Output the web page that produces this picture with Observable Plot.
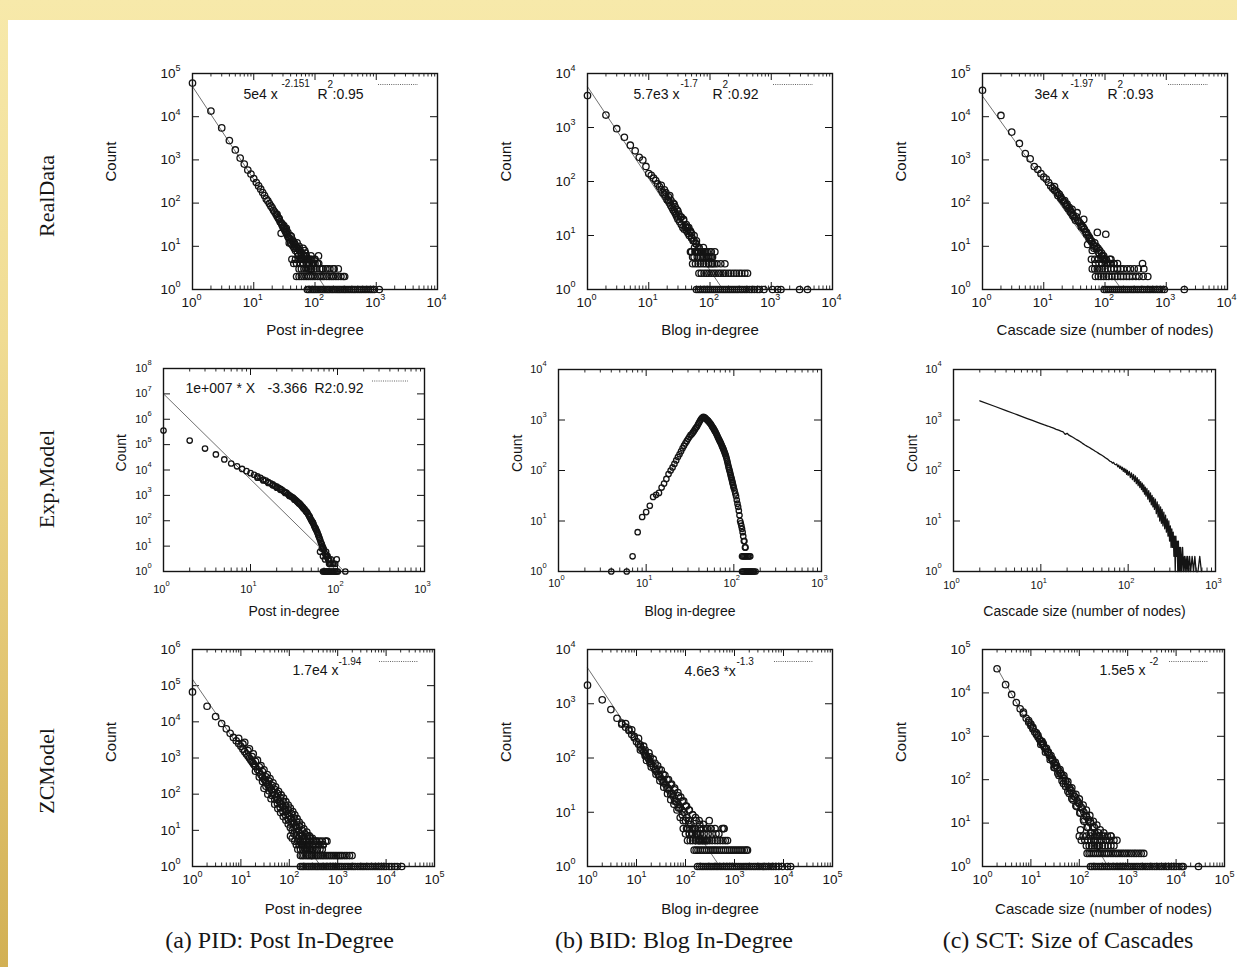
<!DOCTYPE html>
<html><head><meta charset="utf-8">
<script src="https://cdn.jsdelivr.net/npm/d3@7"></script>
<script src="https://cdn.jsdelivr.net/npm/@observablehq/plot@0.6"></script>
<style>
html,body{margin:0;padding:0;width:1237px;height:967px;overflow:hidden;}
body{position:relative;background:linear-gradient(to bottom,#f7e9aa 0%,#f0dc93 35%,#e2c571 70%,#d2b054 100%);}
#sheet{position:absolute;left:8px;top:20px;right:0;bottom:0;background:#fff;}
.rowlab{position:absolute;font-family:"Liberation Serif","Times New Roman",serif;font-size:22px;color:#161616;transform:translate(-50%,-50%) rotate(-90deg);white-space:nowrap;}
.cap{position:absolute;font-family:"Liberation Serif","Times New Roman",serif;font-size:24px;color:#161616;transform:translate(-50%,-50%);white-space:nowrap;}
svg{position:absolute;}
</style></head><body><div id="sheet"></div>
<script>
// ---------------- DATA ----------------
const rowLabels = ["RealData", "Exp.Model", "ZCModel"];
const captions = ["(a) PID: Post In-Degree", "(b) BID: Blog In-Degree", "(c) SCT: Size of Cascades"];
const xLabels = ["Post in-degree", "Blog in-degree", "Cascade size (number of nodes)"];
const yLabel = "Count";

// RealData - Post in-degree
const realPidXDomain = [1, 1e4], realPidYDomain = [1, 1e5];
const realPidX = [1,2,3,4,5,6,7,8,9,10,11,12,13,14,15,16,17,18,19,20,21,22,23,24,25,26,27,28,29,30,31,32,33,34,35,36,37,38,39,40,42,44,46,48,50,52,54,56,58,60,63,66,70,74,78,83,88,95,105,114,
  28,34,38,43,47,51,55,59,64,68,72,76,82,86,92,98,110,130,160,200,
  24,26,29,31,33,36,39,41,44,46,49,53,57,61,65,69,73,77,81,85];
const realPidY = [60000,13500,5500,2800,1700,1100,800,580,470,370,300,250,210,175,150,125,112,98,86,78,68,62,56,50,46,42,37,35,31,28,26,24,22,21,19,17,16,15,14,12,11,10,9,8,9,7,6,8,5,6,4,5,7,4,3,5,3,4,3,6,
  20,26,12,14,11,12,10,7,9,8,6,5,4,6,4,5,4,3,3,3,
  55,44,33,30,25,21,18,17,13,12,10,9,8,7,6,6,5,4,4,3];
const realPidFive = [42,48,55,62,70,78,88,100];
const realPidFour = [45,50,58,65,72,80,90,100,115];
const realPidThree = [55,60,66,72,80,88,96,120,135,150,175,205,240];
const realPidTwo = [50,55,60,66,72,78,85,92,100,110,120,130,140,155,170,185,200,220,240,265,290,305];
const realPidOne = [75,80,86,92,98,105,112,120,128,136,145,155,165,175,188,200,215,230,245,260,280,300,320,345,370,400,430,460,500,540,580,630,680,740,800,860,930,1120];
const realPidFitX = [1, 153], realPidFitY = [5e4, 1];
const realPidLegend = ["5e4 x", "-2.151", "R", "2", ":0.95"];

// RealData - Blog in-degree
const realBidXDomain = [1, 1e4], realBidYDomain = [1, 1e4];
const realBidX = [1,2,3,4,5,6,7,8,9,10,11,12,13,14,15,16,17,18,19,20,21,22,23,24,25,26,27,28,29,30,32,34,36,38,40,42,44,46,48,50,53,56,59,62,66,70,75,80,86,92,
  18,22,26,30,33,37,41,45,50,55,60,65,72,78,85,95,100,110,48,52,58,100,105,
  16,19,21,23,25,27,29,31,34,37,40,43,47,51,55,60,66];
const realBidY = [3900,1700,950,660,470,370,280,250,190,140,130,115,104,90,80,70,62,58,52,46,44,40,36,33,30,28,26,24,22,20,18,16,14,13,14,12,11,10,12,9,8,6,7,5,6,5,4,5,4,4,
  70,55,38,28,22,20,16,14,11,10,8,5,5,6,5,3,4,3,5,4,5,5,4,
  85,62,52,45,40,34,30,25,22,19,15,14,12,9,8,7,6];
const realBidFive = [50,57,65,75,90,105,120];
const realBidFour = [55,62,70,80,95,110];
const realBidThree = [52,58,64,70,78,86,95,105,118,130,150,175];
const realBidTwo = [66,72,80,88,96,105,115,125,138,150,165,180,200,220,245,270,300,330,370,410];
const realBidOne = [60,65,70,76,82,88,95,102,110,118,127,137,148,160,172,185,200,215,232,250,270,290,315,340,370,400,440,480,530,590,640,760,1050,1270,1440,2900,3900];
const realBidFitX = [1, 162], realBidFitY = [5700, 1];
const realBidLegend = ["5.7e3 x", "-1.7", "R", "2", ":0.92"];

// RealData - Cascade size
const realSctXDomain = [1, 1e4], realSctYDomain = [1, 1e5];
const realSctX = [1,2,3,4,5,6,7,8,9,10,11,12,13,14,15,16,17,18,19,20,21,22,23,24,25,26,27,28,29,30,32,34,36,38,40,42,44,46,48,50,53,56,60,64,68,72,77,82,88,95,
  35,45,52,58,62,66,75,80,90,100,103,110,120,124,140,160,410,
  15,17,19,22,24,27,30,33,37,41,45,50,55,61,67,73,80,88,97];
const realSctY = [41000,10700,4400,2400,1400,1060,700,600,480,400,360,300,250,220,240,190,150,160,130,120,110,115,90,85,75,80,65,60,72,55,45,48,40,36,33,30,28,25,22,21,18,16,13,11,12,10,9,8,7,6,
  60,42,11,14,8,9,21,7,6,5,19,4,5,4,4,3,4,
  200,170,140,100,95,70,50,40,38,28,25,19,15,13,10,9,7,6,5];
const realSctFive = [60,68,78,90,105,125];
const realSctFour = [70,80,90,105,120,140,160];
const realSctThree = [62,68,75,82,90,100,110,125,140,160,180,200,230,260,300,350,430];
const realSctTwo = [70,78,86,95,105,115,130,145,160,180,200,225,250,280,320,360,420,500];
const realSctOne = [97,105,113,122,132,142,153,165,178,192,207,223,240,260,280,300,325,350,380,410,440,480,520,560,610,660,720,780,850,930,1970];
const realSctFitX = [1, 187], realSctFitY = [3e4, 1];
const realSctLegend = ["3e4 x", "-1.97", "R", "2", ":0.93"];

// Exp.Model - Post in-degree
const expPidXDomain = [1, 1e3], expPidYDomain = [1, 1e8];
const expPidX = [1,2,3,4,5,6,7,8,9,10,11,12,13,14,15,16,17,18,19,20,21,22,23,24,25,26,27,28,29,30,31,32,33,34,35,36,37,38,39,40,41,42,43,44,45,46,47,48,49,50,51,52,53,54,55,56,57,58,59,60,61,62,63,64,65,66,67,68,69,70,72,74,76,78,80,82,85,88,90,
  63,66,68,72,74,77,80,84,94,98,
  12,14,16,18,20,22,25,28,32,36,40,44,48,52,56,60];
const expPidY = [360000,145000,70000,41000,26000,18000,14000,11000,9000,7500,6500,5600,4900,4200,3800,3300,3000,2700,2400,2200,2000,1800,1650,1450,1350,1250,1100,1000,920,860,790,720,650,590,540,500,460,410,370,340,300,280,250,230,210,180,160,140,120,105,95,85,75,62,55,48,43,38,33,28,24,21,18,15,13,12,10,9,8,7,5,4,4,3,3,2,2,2,2,
  6,8,4,3,6,4,2,3,2,3,
  5000,3900,3100,2500,2000,1650,1250,950,680,480,330,220,140,85,50,28];
const expPidOne = [68,70,72,74,76,78,80,83,86,89,92,95,98,101,123];
const expPidFitX = [1, 120], expPidFitY = [1e7, 1];
const expPidLegend = ["1e+007 * X", "-3.366", "R2:0.92"];

// Exp.Model - Blog in-degree
const expBidXDomain = [1, 1e3], expBidYDomain = [1, 1e4];
const expBidX = [4,6,7,8,9,10,11,12,13,14,15,16,17,18,19,20,21,22,23,24,25,26,27,28,29,30,31,32,33,34,35,36,37,38,39,40,41,42,43,44,45,46,47,48,49,50,51,52,53,54,55,56,57,58,59,60,61,62,63,64,65,66,67,68,69,70,71,72,73,74,75,76,77,78,79,80,81,82,83,84,85,86,87,88,89,90,91,92,93,94,95,96,97,98,99,100,102,104,106,108,110,112,114,116,118,120,122,124,126,128,130,132,134,136];
const expBidY = [1,1,2,6,12,15,20,30,33,36,46,55,68,85,100,115,135,158,185,210,240,275,310,345,380,420,460,500,520,560,600,650,700,740,810,880,950,1020,1080,1120,1150,1130,1100,1070,1020,990,960,920,880,850,810,770,730,700,665,630,600,570,540,510,480,450,430,405,385,365,350,330,310,295,280,265,250,235,220,208,195,182,168,155,142,130,118,110,102,95,88,81,75,70,65,60,56,52,48,45,40,35,31,26,22,19,16,13,10,9,8,7,6,5,4,4,3,3];
const expBidTwo = [124,128,132,136,140,145,150,154];
const expBidOne = [124,128,132,136,140,144,148,152,156,160,165,170,177];

// Exp.Model - Cascade size (connected line)
const expSctXDomain = [1, 1e3], expSctYDomain = [1, 1e4];
const expSctX = [2,3,4,5,6,7,8,9,10,11,12,13,14,15,16,17,18,19,20,21,22,23,24,25,26,27,28,29,30,
  32,34,36,38,40,42,44,46,48,50,52,54,56,58,60,62,64,66,68,70,72,74,76,78,80,82,84,86,88,90,92,94,96,98,100,
  103,106,109,112,115,118,121,124,127,130,133,136,139,142,145,148,151,154,157,160,
  164,168,172,176,180,184,188,192,196,200,
  205,210,215,220,225,230,235,240,245,250,
  256,262,268,274,280,286,292,298,304,310,316,322,328,334,340,346,352,358,364,370,376,382,388,394,400,
  410,420,430,440,450,460,470,480,490,
  505,520,540,560,580,600,630,660,690];
const expSctY = [2400,1850,1530,1330,1180,1070,980,910,850,800,760,720,690,655,630,600,580,520,545,500,480,460,440,420,405,390,375,360,345,
  320,300,285,268,255,240,230,218,208,200,192,182,175,168,160,152,150,140,145,133,130,135,118,128,110,122,104,116,96,110,92,106,84,100,80,
  96,72,90,66,84,60,78,55,72,50,66,46,60,42,56,38,52,34,47,31,
  44,27,40,24,36,21,32,19,29,17,
  27,14,24,12,21,10,19,9,17,8,
  15,7,13,6,11,5,10,4,8,3,7,3,6,2,5,1,5,2,4,1,4,1,3,1,3,
  1,3,1,2,1,2,1,2,1,
  2,1,2,1,2,1,1,2,1];

// ZCModel - Post in-degree
const zcPidXDomain = [1, 1e5], zcPidYDomain = [1, 1e6];
const zcPidX = [1,2,3,4,5,6,7,8,9,10,11,12,13,14,15,16,17,18,19,20,22,24,26,28,30,32,34,36,38,40,43,46,50,54,58,62,66,70,75,80,86,92,100,108,116,125,135,145,155,170,185,200,
  12,15,18,22,26,30,35,40,46,52,60,68,76,85,95,105,118,130,145,160,180,200,230,260,300,350,420,500,560,
  30,36,42,50,58,66,75,85,95,105,115,125,140,155,170,190,210,235,260,290,
  9,11,14,17,20,24,28,33,38,44,50,57,65,74,84,96,110,125,142,162,185,210,240,275,320,370,430,
  20,24,28,33,38,44,50,57,65,74,84,96,110,125,142,162,185,210,240,270,300,
  106,115,600,500,400];
const zcPidY = [67000,27000,14000,9000,6400,4800,3700,3000,2500,2100,1750,1500,1300,1130,1000,880,790,710,640,580,480,405,345,300,262,232,206,184,166,150,130,114,97,83,72,63,56,50,44,38,33,29,25,21,18,16,13,11.5,10,8,7,6,
  2700,1800,1300,870,620,470,350,270,205,160,120,95,78,62,50,41,33,27,21,17,14,11,9,7,6,5,5,4,5,
  145,100,75,53,40,31,24,19,15,12,10,8,7,6,5,4,3,3,3,2,
  3500,2450,1600,1100,810,570,420,300,232,175,136,105,80,63,48,37,29,22,17,13,10,8,7,6,5,5,4,
  430,300,225,165,125,92,72,55,43,33,26,20,16,12,9,7,5,4,4,3,3,
  7,6,5,4,4];
const zcPidFive = [130,150,170,190,220,260,320,480];
const zcPidFour = [140,160,180,200,230,260,300,350];
const zcPidThree = [150,170,190,215,240,270,300,340,380,430,480];
const zcPidTwo = [170,185,200,220,240,260,285,310,340,370,400,440,480,520,570,620,680,740,810,880,960,1050,1150,1250,1400,1550,1750,1980];
const zcPidOne = [170,185,200,220,240,260,285,310,340,370,400,440,480,520,570,620,680,740,810,880,960,1050,1150,1250,1400,1550,1700,1900,2100,2300,2600,2900,3200,3500,3900,4300,4800,5300,5900,6500,7200,8000,9000,10000,11500,13000,15000,17000,21000];
const zcPidFitX = [1, 450], zcPidFitY = [1.5e5, 1];
const zcPidLegend = ["1.7e4 x", "-1.94"];

// ZCModel - Blog in-degree
const zcBidXDomain = [1, 1e5], zcBidYDomain = [1, 1e4];
const zcBidX = [1,2,3,4,5,6,7,8,9,10,11,12,13,14,15,16,17,18,19,20,22,24,26,28,30,33,36,40,44,48,53,58,64,70,77,85,94,105,115,128,140,155,176,200,
  6,8,11,14,18,22,27,32,38,45,52,60,70,80,92,105,120,140,160,190,230,280,330,400,480,560,
  16,20,25,30,36,43,50,58,67,78,90,105,120,140,160,185,215,250,
  5,7,9,12,15,19,24,29,35,42,50,60,72,86,100,118,140,165,195,230,
  12,15,19,24,29,35,42,50,60,72,86,100,118,140,165,195,230,270,
  305,613];
const zcBidY = [2200,1180,780,540,440,370,320,270,235,200,180,160,145,130,120,110,102,94,87,80,70,62,56,50,46,41,37,32,28,25,22,19,16,14,12,11,10,8,7,6,5,5,4,4,
  430,330,230,165,125,95,72,60,48,40,33,28,23,19,16,13,11,9,8,7,6,5,5,5,4,5,
  90,68,50,38,29,22,17,14,11,8,7,5,4,4,3,3,3,3,
  420,340,250,175,140,105,80,62,50,40,32,26,20,16,13,11,9,7,6,5,
  140,110,80,60,46,35,27,21,16,12,9,7,6,5,4,3,3,3,
  7,5];
const zcBidFive = [90,110,130,160,200,260,330,600];
const zcBidFour = [100,120,140,170,200,240,290,350,420];
const zcBidThree = [110,125,140,160,180,200,225,250,280,310,350,400,450,510,580,650,720];
const zcBidTwo = [150,165,180,200,220,245,270,300,330,365,400,440,490,540,600,660,730,800,880,970,1070,1180,1300,1430,1580,1740,1840];
const zcBidOne = [176,195,215,235,260,285,315,345,380,420,460,510,560,620,680,750,830,910,1000,1100,1220,1350,1500,1650,1800,2000,2200,2450,2700,3000,3300,3700,4100,4500,5000,5600,6200,7000,8000,9500,12000,14000];
const zcBidFitX = [1, 500], zcBidFitY = [4600, 1];
const zcBidLegend = ["4.6e3 *x", "-1.3"];

// ZCModel - Cascade size
const zcSctXDomain = [1, 1e5], zcSctYDomain = [1, 1e5];
const zcSctX = [2,3,4,5,6,7,8,9,10,11,12,13,14,15,16,17,18,19,20,22,24,26,28,30,32,35,38,41,44,48,52,57,62,68,74,81,90,100,110,124,140,155,170,190,210,233,
  10,13,17,21,26,32,40,48,58,70,85,100,120,140,165,195,230,270,320,380,450,520,
  30,36,44,52,62,74,88,104,122,145,170,200,240,
  7,9,11,14,18,23,28,34,42,52,64,78,95,115,140,170,205,250,300,360,
  16,20,25,31,38,47,58,70,85,103,125,150,180,215,260,
  106,600];
const zcSctY = [36000,15500,9200,6000,4300,3300,2600,2100,1750,1480,1260,1100,960,850,760,680,620,560,510,430,365,315,275,240,215,185,160,140,125,108,93,78,66,56,48,40,33,28,23,18,14,12,10,8,6,5,
  1900,1200,760,530,360,250,170,125,90,65,46,36,26,20,15,11,9,7,6,5,5,4,
  190,140,95,70,48,34,24,17,12,8,6,4,3,
  3600,2300,1600,1050,680,430,300,210,140,95,62,42,30,21,15,11,8,6,5,4,
  650,430,290,190,125,82,54,37,25,17,11,8,6,4,3,
  7,4];
const zcSctFive = [100,120,140,170,210,260,330,450];
const zcSctFour = [110,130,150,175,200,240,290,350,420];
const zcSctThree = [140,160,180,205,230,260,300,340,390,450,520];
const zcSctTwo = [145,160,175,195,215,240,265,295,330,365,400,450,500,560,620,690,770,860,960,1070,1200,1350,1500,1700,1900,2150];
const zcSctOne = [170,185,205,225,250,275,300,330,365,400,440,490,540,600,660,730,800,890,990,1100,1220,1350,1500,1650,1850,2050,2300,2550,2850,3200,3600,4000,4500,5000,5600,6300,7000,8000,9000,10000,11500,13000,14000,29000];
const zcSctFitX = [2, 387], zcSctFitY = [37500, 1];
const zcSctLegend = ["1.5e5 x", "-2"];

// ---------------- HELPERS ----------------
const INK = "#141414";
const SANS = "'Liberation Sans', Arial, Helvetica, sans-serif";
const zip = (xs, ys) => xs.map((x, i) => ({x, y: ys[i]}));
const level = (xs, c) => xs.map(x => ({x, y: c}));
function decades(d) { const a = []; const lo = Math.round(Math.log10(d[0])), hi = Math.round(Math.log10(d[1])); for (let k = lo; k <= hi; k++) a.push(Math.pow(10, k)); return a; }
function minors(d) { const a = []; const lo = Math.round(Math.log10(d[0])), hi = Math.round(Math.log10(d[1])); for (let k = lo; k < hi; k++) for (let m = 2; m <= 9; m++) a.push(m * Math.pow(10, k)); return a; }

// row styles (layout only)
const R1 = {tick: 13.5, exp: 9, lab: 15, xtDx: 4, xtDy: 17, xeDy: 10.5, ytDx: -17, yeDy: -5, countDx: -81, countDy: 0, xlabDy: 45.5, r: 3.2};
const R2 = {tick: 11, exp: 7.5, lab: 14, xtDx: 2, xtDy: 18, xeDy: 11.5, ytDx: -16, yeDy: -5.5, countDx: -41, countDy: 1.5, xlabDy: 44.5, r: 2.7};
const R3 = {tick: 13.5, exp: 9, lab: 15, xtDx: 5, xtDy: 17, xeDy: 10.5, ytDx: -17, yeDy: -5, countDx: -81, countDy: 4, xlabDy: 47.5, r: 3.2};

const supLegend = (t, pos) => t.map((s, i) => ({t: s, ...pos[i]}));
const realLow = (five, four, three, two, one) => [...level(five, 5), ...level(four, 4), ...level(three, 3), ...level(two, 2), ...level(one, 1)];

const panels = [
  {frame: [192, 73, 437, 289], xd: realPidXDomain, yd: realPidYDomain, st: R1, xlab: xLabels[0],
   dots: [...zip(realPidX, realPidY), ...realLow(realPidFive, realPidFour, realPidThree, realPidTwo, realPidOne)],
   fit: zip(realPidFitX, realPidFitY),
   legend: supLegend(realPidLegend, [{dx: 51, dy: 15.5, fs: 14}, {dx: 89, dy: 6.5, fs: 10}, {dx: 125, dy: 15.5, fs: 14}, {dx: 135, dy: 7, fs: 10}, {dx: 140, dy: 15.5, fs: 14}]),
   sample: {l: 186, r: 19, dy: 11}},
  {frame: [587, 73, 832, 289], xd: realBidXDomain, yd: realBidYDomain, st: R1, xlab: xLabels[1],
   dots: [...zip(realBidX, realBidY), ...realLow(realBidFive, realBidFour, realBidThree, realBidTwo, realBidOne)],
   fit: zip(realBidFitX, realBidFitY),
   legend: supLegend(realBidLegend, [{dx: 46, dy: 15.5, fs: 14}, {dx: 93, dy: 6.5, fs: 10}, {dx: 125, dy: 15.5, fs: 14}, {dx: 135, dy: 7, fs: 10}, {dx: 140, dy: 15.5, fs: 14}]),
   sample: {l: 186, r: 19, dy: 11}},
  {frame: [982, 73, 1227, 289], xd: realSctXDomain, yd: realSctYDomain, st: R1, xlab: xLabels[2],
   dots: [...zip(realSctX, realSctY), ...realLow(realSctFive, realSctFour, realSctThree, realSctTwo, realSctOne)],
   fit: zip(realSctFitX, realSctFitY),
   legend: supLegend(realSctLegend, [{dx: 52, dy: 15.5, fs: 14}, {dx: 88, dy: 6.5, fs: 10}, {dx: 125, dy: 15.5, fs: 14}, {dx: 135, dy: 7, fs: 10}, {dx: 140, dy: 15.5, fs: 14}]),
   sample: {l: 186, r: 19, dy: 11}},
  {frame: [163, 368, 424, 571], xd: expPidXDomain, yd: expPidYDomain, st: {...R2, xtDy: 21, xeDy: 14.5, countDx: -42}, xlab: xLabels[0],
   dots: [...zip(expPidX, expPidY), ...level(expPidOne, 1)],
   fit: zip(expPidFitX, expPidFitY),
   legend: supLegend(expPidLegend, [{dx: 22, dy: 14.7, fs: 14}, {dx: 104, dy: 14.7, fs: 14}, {dx: 151, dy: 14.7, fs: 14}]),
   sample: {l: 209, r: 16, dy: 12.5}},
  {frame: [558, 369, 821, 571], xd: expBidXDomain, yd: expBidYDomain, st: {...R2, xtDy: 15, xeDy: 8.5}, xlab: xLabels[1],
   dots: [...zip(expBidX, expBidY), ...level(expBidTwo, 2), ...level(expBidOne, 1)]},
  {frame: [953, 369, 1215, 571], xd: expSctXDomain, yd: expSctYDomain, st: {...R2, xtDy: 17.5, xeDy: 11}, xlab: xLabels[2],
   line: zip(expSctX, expSctY)},
  {frame: [192, 649, 434, 866], xd: zcPidXDomain, yd: zcPidYDomain, st: R3, xlab: xLabels[0],
   dots: [...zip(zcPidX, zcPidY), ...realLow(zcPidFive, zcPidFour, zcPidThree, zcPidTwo, zcPidOne)],
   fit: zip(zcPidFitX, zcPidFitY),
   legend: supLegend(zcPidLegend, [{dx: 100, dy: 15.5, fs: 14}, {dx: 146, dy: 8, fs: 10}]),
   sample: {l: 187, r: 16, dy: 12}},
  {frame: [587, 649, 832, 866], xd: zcBidXDomain, yd: zcBidYDomain, st: R3, xlab: xLabels[1],
   dots: [...zip(zcBidX, zcBidY), ...realLow(zcBidFive, zcBidFour, zcBidThree, zcBidTwo, zcBidOne)],
   fit: zip(zcBidFitX, zcBidFitY),
   legend: supLegend(zcBidLegend, [{dx: 97, dy: 16.5, fs: 14}, {dx: 149, dy: 8.5, fs: 10}]),
   sample: {l: 187, r: 19, dy: 12}},
  {frame: [982, 649, 1224, 866], xd: zcSctXDomain, yd: zcSctYDomain, st: R3, xlab: xLabels[2],
   dots: [...zip(zcSctX, zcSctY), ...realLow(zcSctFive, zcSctFour, zcSctThree, zcSctTwo, zcSctOne)],
   fit: zip(zcSctFitX, zcSctFitY),
   legend: supLegend(zcSctLegend, [{dx: 117, dy: 16, fs: 14}, {dx: 167, dy: 8, fs: 10}]),
   sample: {l: 187, r: 16, dy: 12}}
];

const ML = 100, MT = 12, MR = 14, MB = 62;
for (const p of panels) {
  const [l, t, r, b] = p.frame;
  const iw = r - l, ih = b - t, st = p.st;
  const xM = decades(p.xd), yM = decades(p.yd), xm = minors(p.xd);
  const expText = d => String(Math.round(Math.log10(d)));
  const marks = [
    Plot.tickX(xm, {insetTop: ih - 3.5, stroke: INK, strokeWidth: 0.9}),
    Plot.tickX(xm, {insetBottom: ih - 3.5, stroke: INK, strokeWidth: 0.9}),
    Plot.tickX(xM, {insetTop: ih - 7, stroke: INK, strokeWidth: 1}),
    Plot.tickX(xM, {insetBottom: ih - 7, stroke: INK, strokeWidth: 1}),
    Plot.tickY(yM, {insetRight: iw - 7, stroke: INK, strokeWidth: 1}),
    Plot.tickY(yM, {insetLeft: iw - 7, stroke: INK, strokeWidth: 1}),
    Plot.text(xM, {x: d => d, text: () => "10", frameAnchor: "bottom", textAnchor: "end", dx: st.xtDx, dy: st.xtDy, fontSize: st.tick, fill: INK}),
    Plot.text(xM, {x: d => d, text: expText, frameAnchor: "bottom", textAnchor: "start", dx: st.xtDx, dy: st.xeDy, fontSize: st.exp, fill: INK}),
    Plot.text(yM, {y: d => d, text: () => "10", frameAnchor: "left", textAnchor: "end", dx: st.ytDx, fontSize: st.tick, fill: INK}),
    Plot.text(yM, {y: d => d, text: expText, frameAnchor: "left", textAnchor: "start", dx: st.ytDx, dy: st.yeDy, fontSize: st.exp, fill: INK}),
    Plot.text([p.xlab], {text: d => d, frameAnchor: "bottom", dy: st.xlabDy, fontSize: st.lab, fill: INK}),
    Plot.text([yLabel], {text: d => d, frameAnchor: "left", dx: st.countDx, dy: st.countDy, rotate: -90, fontSize: st.lab, fill: INK})
  ];
  if (p.fit) marks.push(Plot.line(p.fit, {x: "x", y: "y", stroke: "#707070", strokeWidth: 1}));
  if (p.dots) marks.push(Plot.dot(p.dots, {x: "x", y: "y", r: st.r, stroke: INK, strokeWidth: 1.3, fill: "none"}));
  if (p.line) marks.push(Plot.line(p.line, {x: "x", y: "y", stroke: INK, strokeWidth: 1.3}));
  if (p.legend) {
    for (const s of p.legend) marks.push(Plot.text([s.t], {text: d => d, frameAnchor: "top-left", textAnchor: "start", dx: s.dx, dy: s.dy, fontSize: s.fs, fill: INK}));
    marks.push(Plot.tickY([p.yd[1]], {y: d => d, dy: p.sample.dy, insetLeft: p.sample.l, insetRight: p.sample.r, stroke: "#666", strokeWidth: 1, strokeDasharray: "1,1.2"}));
  }
  marks.push(Plot.frame({stroke: INK, strokeWidth: 1.4}));
  const svg = Plot.plot({
    width: iw + ML + MR, height: ih + MT + MB,
    marginLeft: ML, marginTop: MT, marginRight: MR, marginBottom: MB,
    x: {type: "log", domain: p.xd, axis: null},
    y: {type: "log", domain: p.yd, axis: null},
    style: {background: "transparent", fontFamily: SANS, overflow: "visible"},
    marks
  });
  svg.style.left = (l - ML) + "px";
  svg.style.top = (t - MT) + "px";
  document.body.appendChild(svg);
}

// row labels and captions (HTML text)
const rowY = [196, 479, 771];
rowLabels.forEach((s, i) => {
  const d = document.createElement("div");
  d.className = "rowlab"; d.textContent = s;
  d.style.left = "47px"; d.style.top = rowY[i] + "px";
  document.body.appendChild(d);
});
const capX = [279.5, 674, 1068];
captions.forEach((s, i) => {
  const d = document.createElement("div");
  d.className = "cap"; d.textContent = s;
  d.style.left = capX[i] + "px"; d.style.top = "940px";
  document.body.appendChild(d);
});
</script></body></html>
